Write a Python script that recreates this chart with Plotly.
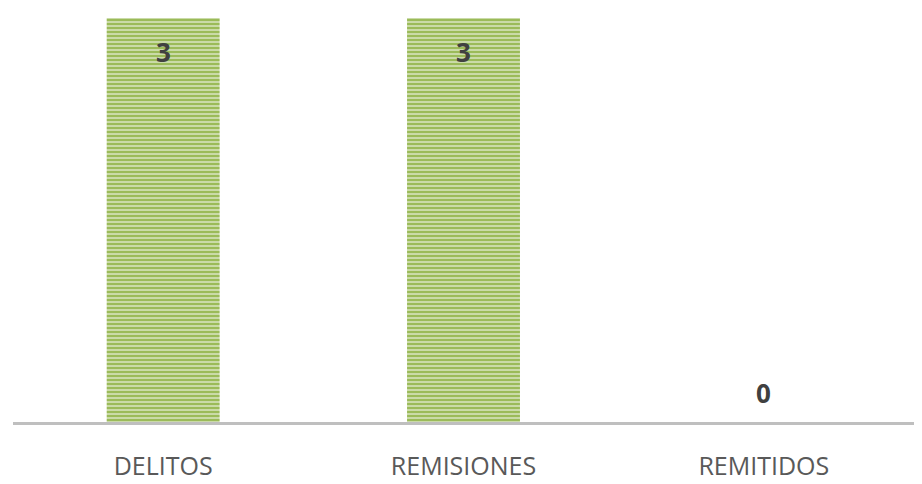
import plotly.graph_objects as go

categories = ["DELITOS", "REMISIONES", "REMITIDOS"]
values = [3, 3, 0]

bar_green = "#9bbb59"
stripe_light = "#e9f0dc"
label_color = "#404040"
axis_color = "#bfbfbf"
font_family = "Open Sans, Noto Sans, sans-serif"

fig = go.Figure()
fig.add_trace(go.Bar(
    x=categories,
    y=values,
    width=0.376,
    marker=dict(
        color=bar_green,
        line=dict(width=0),
        pattern=dict(shape="-", fgcolor=bar_green, bgcolor=stripe_light,
                     size=4, solidity=0.7, fillmode="replace", fgopacity=1),
    ),
    hoverinfo="x+y",
))

# value labels: inside near the top of tall bars, just above the axis for zero
for cat, v in zip(categories, values):
    fig.add_annotation(
        x=cat, y=v, text=f"<b>{v}</b>", showarrow=False,
        yshift=-34 if v > 0 else 29,
        font=dict(family=font_family, size=26, color=label_color),
    )

fig.update_layout(
    width=922, height=484,
    margin=dict(l=13, r=8, t=18, b=62),
    paper_bgcolor="white",
    plot_bgcolor="rgba(0,0,0,0)",
    showlegend=False,
    bargap=0.624,
    xaxis=dict(
        showline=True, linecolor=axis_color, linewidth=3,
        showgrid=False, zeroline=False, ticks="",
        automargin=False,
        ticklabelstandoff=20,
        tickfont=dict(family=font_family, size=25, color="#595959"),
    ),
    yaxis=dict(range=[0, 3], visible=False, showgrid=False, zeroline=False,
               automargin=False),
)

fig.write_html("out.html")
